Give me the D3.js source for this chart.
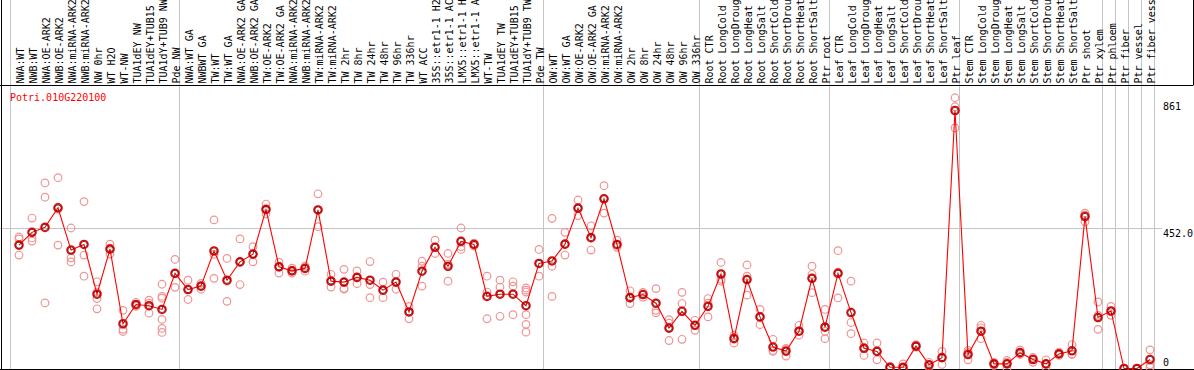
<!DOCTYPE html>
<html>
<head>
<meta charset="utf-8">
<script src="https://cdn.jsdelivr.net/npm/d3@7"></script>
<style>
  html, body { margin: 0; padding: 0; background: #fff; }
  svg { display: block; }
  text { font-family: "DejaVu Sans Mono", monospace; font-size: 10px; }
</style>
</head>
<body>
<svg id="chart" width="1194" height="370"></svg>
<script>
// ── Data ──────────────────────────────────────────────────────────────────
const geneName = 'Potri.010G220100';

const samples = [
  'NWA:WT', 'NWB:WT', 'NWA:OE-ARK2', 'NWB:OE-ARK2', 'NWA:miRNA-ARK2', 'NWB:miRNA-ARK2',
  'NW 0hr', 'WT H2O', 'WT-NW', 'TUA1dEY NW', 'TUA1dEY+TUB15 NW', 'TUA1dY+TUB9 NW', 'Pde NW',
  'NWA:WT GA', 'NWBWT GA', 'TW:WT', 'TW:WT GA', 'NWA:OE-ARK2 GA', 'NWB:OE-ARK2 GA',
  'TW:OE-ARK2', 'TW:OE-ARK2 GA', 'NWA:miRNA-ARK2 GA', 'NWB:miRNA-ARK2 GA', 'TW:miRNA-ARK2',
  'TW:miRNA-ARK2 GA', 'TW 2hr', 'TW 8hr', 'TW 24hr', 'TW 48hr', 'TW 96hr', 'TW 336hr',
  'WT ACC', '35S::etr1-1 H2O', '35S::etr1-1 ACC', 'LMX5::etr1-1 H2O', 'LMX5::etr1-1 ACC',
  'WT-TW', 'TUA1dEY TW', 'TUA1dEY+TUB15 TW', 'TUA1dY+TUB9 TW', 'Pde TW',
  'OW:WT', 'OW:WT GA', 'OW:OE-ARK2', 'OW:OE-ARK2 GA', 'OW:miRNA-ARK2', 'OW:miRNA-ARK2 GA',
  'OW 2hr', 'OW 8hr', 'OW 24hr', 'OW 48hr', 'OW 96hr', 'OW 336hr',
  'Root CTR', 'Root LongCold', 'Root LongDrought', 'Root LongHeat', 'Root LongSalt',
  'Root ShortCold', 'Root ShortDrought', 'Root ShortHeat', 'Root ShortSalt', 'Ptr root',
  'Leaf CTR', 'Leaf LongCold', 'Leaf LongDrought', 'Leaf LongHeat', 'Leaf LongSalt',
  'Leaf ShortCold', 'Leaf ShortDrought', 'Leaf ShortHeat', 'Leaf ShortSalt', 'Ptr leaf',
  'Stem CTR', 'Stem LongCold', 'Stem LongDrought', 'Stem LongHeat', 'Stem LongSalt',
  'Stem ShortCold', 'Stem ShortDrought', 'Stem ShortHeat', 'Stem ShortSalt', 'Ptr shoot',
  'Ptr xylem', 'Ptr phloem', 'Ptr fiber', 'Ptr vessel', 'Ptr fiber vessel'
];

// number of samples in each separated block (gray lines between blocks)
const groupSizes = [13, 28, 12, 10, 10, 11, 1, 1, 1, 1];

const means = [
  397, 438, 454, 517, 381, 399, 239, 384, 144, 206, 202, 190, 306,
  254, 265, 378, 284, 343, 368, 512, 327, 314, 322, 510, 281, 278, 293, 284, 252, 278, 182,
  313, 390, 329, 409, 399, 232, 239, 239, 202, 338,
  346, 400, 516, 421, 546, 399, 228, 238, 210, 130, 184, 139,
  200, 304, 96, 286, 166, 69, 56, 120, 290, 133,
  306, 180, 65, 55, 4, 4, 72, 12, 35, 830,
  45, 120, 15, 15, 51, 29, 15, 47, 57, 489, 164,
  185, 0, 0, 29
];

const replicates = [
  [423, 417, 365], [484, 420, 410], [597, 551, 211], [614, 513, 397], [452, 356, 343],
  [537, 365, 297], [279, 246, 225, 192], [400, 387, 368], [187, 126, 119], [213, 203, 200],
  [220, 210, 178], [271, 232, 226, 158, 129, 116], [351, 306, 261],
  [284, 254, 222], [274, 265, 255], [478, 367, 290], [354, 281, 216], [417, 342, 270],
  [392, 368, 343], [529, 510, 497], [342, 329, 307], [323, 316, 307], [329, 322, 313],
  [562, 510, 456], [303, 281, 262], [319, 258, 255], [314, 292, 273], [344, 270, 228],
  [278, 252, 228], [303, 278, 255], [200, 182, 160], [345, 329, 265], [413, 390, 370],
  [370, 336, 281], [452, 392, 383], [403, 394, 400], [297, 246, 160], [284, 262, 168],
  [279, 265, 173], [259, 252, 246, 173, 142, 117], [383, 338, 297],
  [483, 329, 232], [438, 400, 365], [542, 514, 492], [459, 420, 381], [588, 546, 500],
  [413, 396, 390], [250, 226, 209], [245, 238, 229], [257, 187, 179], [157, 146, 90],
  [245, 209, 94], [155, 139, 123],
  [225, 210, 166], [341, 287, 281], [107, 100, 82], [333, 297, 236], [190, 166, 141],
  [94, 58, 55], [64, 64, 40], [139, 120, 107], [329, 303, 244], [190, 119, 96],
  [379, 310, 227], [281, 148, 112], [82, 68, 42], [82, 55, 28], [6, 4, 0],
  [15, 0, 0], [77, 70, 69], [20, 10, 4], [55, 35, 13], [871, 842, 774],
  [58, 52, 28], [139, 131, 96], [20, 15, 10], [26, 20, 0], [60, 47, 45],
  [36, 32, 20], [28, 13, 4], [53, 47, 42], [77, 47, 45], [500, 494, 472], [214, 171, 126],
  [200, 184, 171], [0, 0, 0], [0, 0, 0], [60, 12, 3]
];

const yTickValues = [861, 452, 0];
const yTickLabels = ['861', '452.0', '0'];

// ── Layout ────────────────────────────────────────────────────────────────
const W = 1194, H = 370;
const HEADER_H = 85;
const PLOT_BOTTOM = 369.5;
const GRID = '#c4c4c4';
const LINE_RED = '#ff0000';
const REP_RED = '#f09494';

const svg = d3.select('#chart');
svg.append('rect').attr('width', W).attr('height', H).attr('fill', '#fff');

const x = d3.scaleLinear().domain([0, samples.length - 1]).range([19, 19 + 13 * (samples.length - 1)]);
const y = d3.scaleLinear().domain([0, 452]).range([368.5, 228]);

// ── Group separators (full height, through header) ───────────────────────
const seps = [-1];
groupSizes.reduce((acc, n) => { seps.push(acc + n - 1); return acc + n; }, 0);
svg.append('g').selectAll('line').data(seps).join('line')
  .attr('x1', d => Math.round(x(d) + 5) - 0.5)
  .attr('x2', d => Math.round(x(d) + 5) - 0.5)
  .attr('y1', 0).attr('y2', PLOT_BOTTOM)
  .attr('stroke', GRID).attr('stroke-width', 1);

// horizontal gridline at middle tick
svg.append('line')
  .attr('x1', 0).attr('x2', 1162)
  .attr('y1', Math.round(y(452)) + 0.5).attr('y2', Math.round(y(452)) + 0.5)
  .attr('stroke', GRID).attr('stroke-width', 1);

// ── Header labels (rotated) ───────────────────────────────────────────────
svg.append('g').selectAll('text').data(samples).join('text')
  .attr('transform', (d, i) => `translate(${x(i) + 5},${HEADER_H - 1.5}) rotate(-90)`)
  .attr('fill', '#000')
  .text(d => d);

// ── Frame ─────────────────────────────────────────────────────────────────
svg.append('path')
  .attr('d', `M1.5,0 V${PLOT_BOTTOM} M0,${HEADER_H + 0.5} H1193.5 M1193.5,0 V${HEADER_H}` +
             ` M0,${PLOT_BOTTOM} H${W}`)
  .attr('fill', 'none').attr('stroke', '#000').attr('stroke-width', 1);

// ── Y axis labels ─────────────────────────────────────────────────────────
svg.append('g').selectAll('text').data(yTickValues).join('text')
  .attr('x', 1163)
  .attr('y', d => d === 0 ? y(d) - 2.5 : y(d) + 9)
  .attr('fill', '#000')
  .text((d, i) => yTickLabels[i]);

// gene name
svg.append('text')
  .attr('x', 10).attr('y', 100.5)
  .attr('fill', '#ff0000')
  .text(geneName);

// ── Replicates ────────────────────────────────────────────────────────────
const repPts = replicates.flatMap((arr, i) => arr.map(v => ({ i, v })));
svg.append('g').selectAll('circle').data(repPts).join('circle')
  .attr('cx', d => x(d.i)).attr('cy', d => y(d.v))
  .attr('r', 3.8)
  .attr('fill', 'none')
  .attr('stroke', REP_RED).attr('stroke-width', 1.2);

// ── Mean line ─────────────────────────────────────────────────────────────
const line = d3.line().x((d, i) => x(i)).y(d => y(d));
svg.append('path')
  .attr('d', line(means))
  .attr('fill', 'none')
  .attr('stroke', LINE_RED).attr('stroke-width', 1.1);

// mean markers
const mg = svg.append('g');
mg.selectAll('circle.outer').data(means).join('circle')
  .attr('class', 'outer')
  .attr('cx', (d, i) => x(i)).attr('cy', d => y(d))
  .attr('r', 4)
  .attr('fill', 'none')
  .attr('stroke', '#ee0000').attr('stroke-width', 1.6);
mg.selectAll('circle.inner').data(means).join('circle')
  .attr('class', 'inner')
  .attr('cx', (d, i) => x(i)).attr('cy', d => y(d))
  .attr('r', 3.1)
  .attr('fill', 'none')
  .attr('stroke', '#300000').attr('stroke-width', 0.7);
</script>
</body>
</html>
